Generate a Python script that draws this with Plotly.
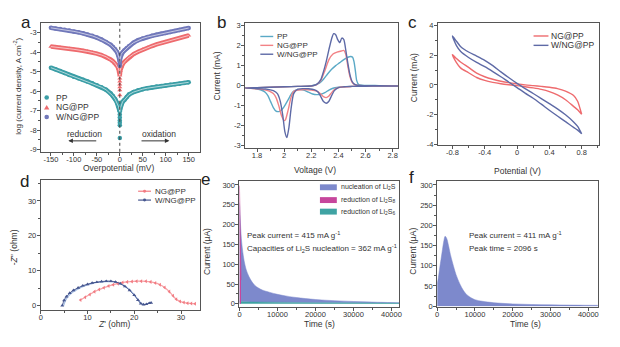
import plotly.graph_objects as go

FIG_W, FIG_H = 620, 347
FONT = "Liberation Sans, Arial, Helvetica, sans-serif"
AX = "#555555"
TXT = "#333333"

# ---------------- (a) Tafel plots ----------------
tafel_eta = [-150, -140, -130, -120, -110, -100, -90, -80, -70, -60, -50, -40, -30, -20,
             -15, -10, -6, -3, -1, 0, 1, 3, 6, 10, 15, 20,
             30, 40, 50, 60, 70, 80, 90, 100, 110, 120, 130, 140, 150]
pp_log = [-4.80, -4.88, -4.97, -5.07, -5.17, -5.26, -5.34, -5.42, -5.51, -5.60, -5.70, -5.80, -5.93, -6.12,
          -6.25, -6.42, -6.60, -6.78, -6.95, -7.05, -6.90, -6.70, -6.55, -6.45, -6.30, -6.18,
          -6.05, -5.96, -5.90, -5.85, -5.81, -5.77, -5.74, -5.71, -5.68, -5.65, -5.62, -5.58, -5.55]
ng_log = [-3.72, -3.74, -3.77, -3.80, -3.83, -3.86, -3.89, -3.93, -3.97, -4.02, -4.08, -4.15, -4.24, -4.38,
          -4.47, -4.58, -4.70, -4.85, -5.00, -5.20, -4.95, -4.75, -4.62, -4.50, -4.38, -4.27,
          -4.10, -3.98, -3.87, -3.78, -3.69, -3.61, -3.54, -3.48, -3.41, -3.35, -3.28, -3.22, -3.15]
wng_log = [-2.76, -2.79, -2.82, -2.86, -2.90, -2.94, -2.99, -3.04, -3.10, -3.17, -3.26, -3.36, -3.48, -3.63,
           -3.74, -3.86, -4.00, -4.18, -4.35, -4.50, -4.30, -4.12, -4.02, -3.92, -3.80, -3.70,
           -3.52, -3.39, -3.30, -3.23, -3.17, -3.11, -3.06, -3.02, -2.97, -2.92, -2.87, -2.82, -2.77]
# points recorded at zero overpotential
pp_zero = [-7.2, -7.35, -7.5, -7.62, -7.75, -8.4]
ng_zero = [-5.35, -5.5, -5.65, -5.8, -5.95, -6.2]
wng_zero = [-4.6, -4.7]

# ---------------- (b) CV of Li-S cells ----------------
pp_v = [2.84, 2.7, 2.6, 2.5, 2.45, 2.40, 2.36, 2.33, 2.30, 2.27, 2.24, 2.21, 2.18, 2.15, 2.12, 2.09, 2.06, 2.03,
        2.00, 1.98, 1.96, 1.94, 1.92, 1.90, 1.88, 1.86, 1.83, 1.80, 1.76, 1.71,
        1.8, 1.9, 2.0, 2.1, 2.18, 2.22, 2.26, 2.29, 2.32, 2.35, 2.38, 2.41, 2.44, 2.47, 2.49, 2.505, 2.515,
        2.525, 2.535, 2.55, 2.6, 2.7, 2.84]
pp_i = [-0.02, -0.02, -0.03, -0.04, -0.05, -0.08, -0.13, -0.22, -0.35, -0.43, -0.45, -0.42, -0.33, -0.24, -0.2,
        -0.22, -0.35, -0.7, -1.05, -1.22, -1.3, -1.28, -1.1, -0.8, -0.5, -0.33, -0.22, -0.17, -0.14, -0.12,
        -0.1, -0.08, -0.06, -0.04, -0.02, 0.02, 0.12, 0.32, 0.58, 0.82, 1.0, 1.15, 1.3, 1.42, 1.46, 1.42, 1.2,
        0.75, 0.25, 0.05, 0.01, 0.0, -0.02]
ng_v = [2.84, 2.7, 2.6, 2.5, 2.42, 2.38, 2.35, 2.33, 2.31, 2.29, 2.27, 2.24, 2.2, 2.15, 2.1, 2.07, 2.05, 2.03,
        2.01, 2.0, 1.98, 1.96, 1.94, 1.92, 1.89, 1.85, 1.8, 1.75, 1.71,
        1.8, 1.9, 2.0, 2.1, 2.2, 2.24, 2.27, 2.30, 2.33, 2.36, 2.39, 2.42, 2.44, 2.455, 2.47, 2.485, 2.5,
        2.52, 2.55, 2.6, 2.7, 2.84]
ng_i = [-0.02, -0.02, -0.03, -0.04, -0.07, -0.15, -0.35, -0.52, -0.6, -0.55, -0.42, -0.28, -0.22, -0.2, -0.22,
        -0.3, -0.6, -1.2, -1.7, -1.75, -1.5, -1.0, -0.6, -0.4, -0.28, -0.2, -0.16, -0.13, -0.12,
        -0.1, -0.08, -0.06, -0.04, -0.02, 0.05, 0.25, 0.75, 1.3, 1.58, 1.68, 1.73, 1.76, 1.55, 0.95, 0.45, 0.18,
        0.05, 0.01, 0.0, 0.0, -0.02]
wng_v = [2.84, 2.7, 2.6, 2.5, 2.44, 2.40, 2.37, 2.35, 2.33, 2.31, 2.29, 2.27, 2.25, 2.22, 2.18, 2.14, 2.1, 2.07,
         2.05, 2.035, 2.02, 2.005, 1.99, 1.97, 1.95, 1.92, 1.88, 1.84, 1.78, 1.71,
         1.8, 1.9, 2.0, 2.1, 2.2, 2.24, 2.27, 2.29, 2.31, 2.33, 2.35, 2.365, 2.38, 2.395, 2.41, 2.425, 2.44,
         2.455, 2.47, 2.485, 2.5, 2.52, 2.55, 2.6, 2.7, 2.84]
wng_i = [-0.02, -0.02, -0.03, -0.04, -0.06, -0.1, -0.25, -0.5, -0.78, -0.88, -0.8, -0.55, -0.32, -0.2, -0.16,
         -0.15, -0.17, -0.4, -1.2, -2.1, -2.6, -2.3, -1.5, -0.75, -0.4, -0.25, -0.19, -0.16, -0.14, -0.12,
         -0.1, -0.08, -0.06, -0.04, -0.02, 0.06, 0.3, 0.7, 1.2, 1.8, 2.35, 2.6, 2.55, 2.3, 2.15, 2.38, 2.3,
         1.75, 1.1, 0.55, 0.22, 0.06, 0.01, 0.0, 0.0, -0.02]

# ---------------- (c) CV of symmetric cells ----------------
sym_v = [-0.8, -0.75, -0.7, -0.6, -0.5, -0.4, -0.3, -0.2, -0.1, 0.0, 0.1, 0.2, 0.3, 0.4, 0.5, 0.6, 0.7, 0.75, 0.8]
ng_sym_up = [2.05, 1.78, 1.55, 1.18, 0.8, 0.55, 0.38, 0.25, 0.15, 0.07, 0.0, -0.05, -0.1, -0.16, -0.25, -0.42,
             -0.72, -1.1, -1.98]
ng_sym_down = [2.05, 1.5, 1.15, 0.82, 0.5, 0.3, 0.17, 0.08, 0.01, -0.05, -0.12, -0.2, -0.3, -0.45, -0.68, -1.0,
               -1.45, -1.68, -1.98]
wng_sym_up = [3.3, 2.95, 2.6, 2.22, 1.95, 1.66, 1.3, 0.88, 0.48, 0.1, -0.25, -0.58, -0.92, -1.27, -1.62, -2.02,
              -2.5, -2.8, -3.3]
wng_sym_down = [3.3, 2.65, 2.27, 1.85, 1.52, 1.23, 0.9, 0.55, 0.18, -0.18, -0.55, -0.9, -1.3, -1.71, -2.1, -2.48,
                -2.87, -3.05, -3.3]

# ---------------- (d) Nyquist plots ----------------
ng_zre = [8.5, 9.5, 10.5, 11.5, 12.5, 13.5, 14.5, 15.5, 16.5, 17.5, 18.5, 19.5, 20.5, 21.5, 22.5, 23.5, 24.5,
          25.5, 26.5, 27.5, 28.3, 29.0, 29.8, 30.6, 31.4, 32.2, 33.0]
ng_zim = [1.6, 2.4, 3.2, 4.0, 4.6, 5.1, 5.6, 6.0, 6.3, 6.6, 6.8, 6.9, 7.0, 7.0, 6.95, 6.8, 6.5,
          6.0, 5.2, 4.0, 2.8, 1.8, 1.2, 0.9, 0.7, 0.6, 0.5]
wng_zre = [4.6, 5.0, 5.5, 6.2, 7.0, 8.0, 9.0, 10.0, 11.0, 12.0, 13.0, 14.0, 15.0, 16.0, 17.0, 18.0, 19.0, 20.0,
           20.8, 21.4, 22.0, 22.6, 23.2, 23.6]
wng_zim = [0.0, 1.5, 2.6, 3.6, 4.4, 5.1, 5.7, 6.1, 6.5, 6.7, 6.9, 7.0, 7.0, 6.8, 6.3, 5.5, 4.4, 3.0,
           1.6, 0.6, 0.3, 0.4, 0.7, 0.8]
wng_fit_zre = [4.9, 5.3, 5.9, 6.8, 8.0, 9.5, 11.0, 12.5, 14.0, 15.5, 17.0, 18.5, 19.8, 20.8, 21.5, 22.2]
wng_fit_zim = [0.0, 1.5, 2.7, 3.8, 4.8, 5.7, 6.3, 6.7, 6.9, 6.8, 6.3, 5.1, 3.4, 1.7, 0.6, 0.2]

# ---------------- (e) potentiostatic discharge, W/NG@PP ----------------
e_t = [0, 200, 500, 1000, 1500, 2000, 3000, 4000, 5000, 6000, 8000, 10000, 12500, 15000, 20000, 25000, 30000,
       35000, 40000, 42000]
e_total = [255, 215, 165, 122, 96, 80, 60, 47, 40, 35, 29, 24, 19.5, 16, 11, 8, 6, 4.5, 3.2, 2.8]
e_s6 = [6, 5.8, 5.6, 5.4, 5.2, 5.0, 4.8, 4.6, 4.4, 4.2, 4.0, 3.8, 3.6, 3.4, 3.1, 2.9, 2.7, 2.5, 2.3, 2.2]
e_s8_t = [0, 80, 200, 400]
e_s8 = [298, 270, 170, 60]

# ---------------- (f) potentiostatic discharge, NG@PP ----------------
f_t = [0, 300, 600, 1000, 1400, 1800, 2100, 2500, 3000, 3500, 4000, 4500, 5000, 6000, 7000, 8000, 10000, 12000,
       15000, 20000, 25000, 30000, 35000, 40000, 42500]
f_i = [55, 70, 90, 115, 140, 163, 173, 168, 150, 128, 110, 93, 78, 55, 38, 27, 16, 12, 8.5, 5.5, 4, 3.2, 2.6,
       2.1, 2.0]

# ---------------- tick labels ----------------
a_xt = [-150, -100, -50, 0, 50, 100, 150]
a_xl = ["-150", "-100", "-50", "0", "50", "100", "150"]
a_yt = [-9, -8, -7, -6, -5, -4, -3]
a_yl = ["-9", "-8", "-7", "-6", "-5", "-4", "-3"]
b_xt = [1.8, 2.0, 2.2, 2.4, 2.6, 2.8]
b_xl = ["1.8", "2", "2.2", "2.4", "2.6", "2.8"]
b_yt = [-3, -2, -1, 0, 1, 2, 3]
b_yl = ["-3", "-2", "-1", "0", "1", "2", "3"]
c_xt = [-0.8, -0.4, 0, 0.4, 0.8]
c_xl = ["-0.8", "-0.4", "0", "0.4", "0.8"]
c_yt = [-4, -2, 0, 2, 4]
c_yl = ["-4", "-2", "0", "2", "4"]
d_t = [0, 10, 20, 30]
d_l = ["0", "10", "20", "30"]
ef_xt = [0, 10000, 20000, 30000, 40000]
ef_xl = ["0", "10000", "20000", "30000", "40000"]
ef_yt = [0, 50, 100, 150, 200, 250, 300]
ef_yl = ["0", "50", "100", "150", "200", "250", "300"]

# ---------------- colours ----------------
C_PP = "#3b9ea6"
C_NG = "#ee6b6e"
C_WNG = "#7178ba"
C_PP_B = "#5aa9c6"
C_NG_B = "#f28286"
C_WNG_B = "#5e6aa6"
C_NG_D = "#f27b82"
C_WNG_D = "#46568f"
C_NUC = "#7d89cc"
C_S8 = "#c6469c"
C_S6 = "#3fa3a3"


def fx(p):
    return p / FIG_W


def fy(p):
    return 1 - p / FIG_H


fig = go.Figure()

# (a)
for ys, zeros, col, sym in [(pp_log, pp_zero, C_PP, "circle"),
                            (ng_log, ng_zero, C_NG, "triangle-up"),
                            (wng_log, wng_zero, C_WNG, "circle")]:
    fig.add_trace(go.Scatter(x=tafel_eta, y=ys, mode="lines+markers",
                             line=dict(color=col, width=4.5),
                             marker=dict(size=4.5, color=col, symbol=sym),
                             xaxis="x", yaxis="y", showlegend=False, hoverinfo="skip"))
    fig.add_trace(go.Scatter(x=[0] * len(zeros), y=zeros, mode="markers",
                             marker=dict(size=4.5, color=col, symbol=sym),
                             xaxis="x", yaxis="y", showlegend=False, hoverinfo="skip"))
    fig.add_trace(go.Scatter(x=tafel_eta, y=ys, mode="lines",
                             line=dict(color="rgba(255,255,255,0.6)", width=1),
                             xaxis="x", yaxis="y", showlegend=False, hoverinfo="skip"))

# (b)
for vv, ii, col in [(pp_v, pp_i, C_PP_B), (ng_v, ng_i, C_NG_B), (wng_v, wng_i, C_WNG_B)]:
    fig.add_trace(go.Scatter(x=vv, y=ii, mode="lines",
                             line=dict(color=col, width=1.4, shape="spline", smoothing=0.6),
                             xaxis="x2", yaxis="y2", showlegend=False, hoverinfo="skip"))

# (c)
for up, down, col in [(ng_sym_up, ng_sym_down, C_NG), (wng_sym_up, wng_sym_down, C_WNG_B)]:
    fig.add_trace(go.Scatter(x=sym_v + sym_v[::-1], y=up + down[::-1], mode="lines",
                             line=dict(color=col, width=1.4, shape="spline", smoothing=0.8),
                             xaxis="x3", yaxis="y3", showlegend=False, hoverinfo="skip"))

# (d)
fig.add_trace(go.Scatter(x=wng_fit_zre, y=wng_fit_zim, mode="lines",
                         line=dict(color="#a9c0e4", width=1.3, shape="spline"),
                         xaxis="x4", yaxis="y4", showlegend=False, hoverinfo="skip"))
fig.add_trace(go.Scatter(x=ng_zre, y=ng_zim, mode="lines+markers",
                         line=dict(color="#f6a3a7", width=1.2, shape="spline"),
                         marker=dict(size=3.5, color=C_NG_D, symbol="triangle-left"),
                         xaxis="x4", yaxis="y4", showlegend=False, hoverinfo="skip"))
fig.add_trace(go.Scatter(x=wng_zre, y=wng_zim, mode="lines+markers",
                         line=dict(color=C_WNG_D, width=1.0, shape="spline"),
                         marker=dict(size=3.5, color=C_WNG_D, symbol="triangle-up"),
                         xaxis="x4", yaxis="y4", showlegend=False, hoverinfo="skip"))

# (e)
fig.add_trace(go.Scatter(x=e_t, y=e_s6, mode="lines", fill="tozeroy", fillcolor=C_S6,
                         line=dict(color=C_S6, width=0.5),
                         xaxis="x5", yaxis="y5", showlegend=False, hoverinfo="skip"))
fig.add_trace(go.Scatter(x=e_t, y=e_total, mode="lines", fill="tonexty", fillcolor=C_NUC,
                         line=dict(color=C_NUC, width=0.5, shape="spline"),
                         xaxis="x5", yaxis="y5", showlegend=False, hoverinfo="skip"))
fig.add_trace(go.Scatter(x=e_s8_t, y=e_s8, mode="lines", fill="tozeroy", fillcolor=C_S8,
                         line=dict(color=C_S8, width=0.8),
                         xaxis="x5", yaxis="y5", showlegend=False, hoverinfo="skip"))

# (f)
fig.add_trace(go.Scatter(x=f_t, y=f_i, mode="lines", fill="tozeroy", fillcolor=C_NUC,
                         line=dict(color=C_NUC, width=0.5, shape="spline"),
                         xaxis="x6", yaxis="y6", showlegend=False, hoverinfo="skip"))


def axis(domain, rng, tv, tl, minor_dtick, anchor, is_x):
    return dict(domain=domain, range=rng, tickmode="array", tickvals=tv, ticktext=tl,
                ticks="outside", ticklen=3, tickwidth=1, tickcolor=AX,
                showline=True, linecolor=AX, linewidth=1, mirror=True,
                showgrid=False, zeroline=False, anchor=anchor,
                ticklabelstandoff=-3 if is_x else -1,
                tickfont=dict(family=FONT, size=7.5, color=TXT),
                minor=dict(ticks="outside", ticklen=2, tick0=0, dtick=minor_dtick,
                           tickcolor=AX, showgrid=False))


fig.update_layout(
    width=FIG_W, height=FIG_H, autosize=False,
    margin=dict(l=0, r=0, t=0, b=0),
    paper_bgcolor="white", plot_bgcolor="white",
    font=dict(family=FONT, size=8, color=TXT),
    showlegend=False,
    xaxis=axis([fx(39.5), fx(199)], [-171, 174], a_xt, a_xl, 25, "y", True),
    yaxis=axis([fy(153), fy(22.5)], [-9.11, -2.52], a_yt, a_yl, 0.5, "x", False),
    xaxis2=axis([fx(244.7), fx(398.5)], [1.712, 2.839], b_xt, b_xl, 0.1, "y2", True),
    yaxis2=axis([fy(149.5), fy(22)], [-3.14, 3.15], b_yt, b_yl, 0.5, "x2", False),
    xaxis3=axis([fx(438.7), fx(600.5)], [-0.98, 1.01], c_xt, c_xl, 0.2, "y3", True),
    yaxis3=axis([fy(146), fy(22)], [-4.05, 4.2], c_yt, c_yl, 1, "x3", False),
    xaxis4=axis([fx(39), fx(199)], [0, 34], d_t, d_l, 5, "y4", True),
    yaxis4=axis([fy(314), fy(182)], [-1.4, 35.9], d_t, d_l, 5, "x4", False),
    xaxis5=axis([fx(239), fx(400)], [0, 42100], ef_xt, ef_xl, 5000, "y5", True),
    yaxis5=axis([fy(310), fy(183)], [-6.7, 309], ef_yt, ef_yl, 25, "x5", False),
    xaxis6=axis([fx(438), fx(600)], [0, 42600], ef_xt, ef_xl, 5000, "y6", True),
    yaxis6=axis([fy(310), fy(183)], [-1, 309], ef_yt, ef_yl, 25, "x6", False),
)

ann = []
shapes = []


def text(px_, py_, s, size=8.5, anchor="center", angle=0, color=TXT):
    ann.append(dict(x=fx(px_), y=fy(py_), xref="paper", yref="paper", text=s, showarrow=False,
                    xanchor=anchor, yanchor="middle", textangle=angle,
                    font=dict(family=FONT, size=size, color=color)))


# panel letters
for lbl, lx, ly in [("a", 24, 22), ("b", 221, 22), ("c", 413, 22),
                    ("d", 23, 183), ("e", 205, 181), ("f", 412, 179)]:
    text(lx, ly, lbl, size=17, color="#222222")

# axis titles
text(117, 169, "Overpotential (mV)")
text(15, 86, "log (current density, A cm<sup>-2</sup>)", size=8, angle=-90)
text(315, 171, "Voltage (V)")
text(216, 76, "Current (mA)", angle=-90)
text(519, 172, "Potential (V)")
text(415, 78, "Current (mA)", angle=-90)
text(113, 328, "<i>Z</i>' (ohm)")
text(12, 250, "-<i>Z</i>'' (ohm)", angle=-90)
text(320, 328, "Time (s)")
text(207, 254, "Current (µA)", angle=-90)
text(527, 328, "Time (s)")
text(414, 254, "Current (µA)", angle=-90)

# (a) legend
for lbl, yy in [("PP", 98), ("NG@PP", 107.8), ("W/NG@PP", 117.6)]:
    text(52, yy, lbl, size=8.5, anchor="left")
r = 2.3
shapes.append(dict(type="circle", xref="paper", yref="paper", x0=fx(45 - r), x1=fx(45 + r),
                   y0=fy(98 + r), y1=fy(98 - r), fillcolor=C_PP, line=dict(width=0)))
shapes.append(dict(type="path", xref="paper", yref="paper",
                   path=f"M {fx(42.3)},{fy(110)} L {fx(47.7)},{fy(110)} L {fx(45)},{fy(105.5)} Z",
                   fillcolor=C_NG, line=dict(width=0)))
shapes.append(dict(type="circle", xref="paper", yref="paper", x0=fx(45 - r), x1=fx(45 + r),
                   y0=fy(117.6 + r), y1=fy(117.6 - r), fillcolor=C_WNG, line=dict(width=0)))
# (a) zero-overpotential guide
shapes.append(dict(type="line", xref="x", yref="y domain", x0=0, x1=0, y0=0, y1=1,
                   line=dict(color="#444444", width=1, dash="dot")))
# (a) direction arrows
text(83, 135, "reduction", size=8.5, anchor="center")
text(158, 135, "oxidation", size=8.5, anchor="center")
ann.append(dict(x=-112, y=-8.55, ax=-48, ay=-8.55, xref="x", yref="y", axref="x", ayref="y",
                text="", showarrow=True, arrowhead=2, arrowsize=0.9, arrowwidth=1, arrowcolor="#333333"))
ann.append(dict(x=108, y=-8.55, ax=44, ay=-8.55, xref="x", yref="y", axref="x", ayref="y",
                text="", showarrow=True, arrowhead=2, arrowsize=0.9, arrowwidth=1, arrowcolor="#333333"))

# (b) legend
for lbl, col, yy in [("PP", C_PP_B, 36), ("NG@PP", C_NG_B, 45), ("W/NG@PP", C_WNG_B, 54)]:
    shapes.append(dict(type="line", xref="paper", yref="paper", x0=fx(260), x1=fx(273),
                       y0=fy(yy), y1=fy(yy), line=dict(color=col, width=1.4)))
    text(274.5, yy, lbl, size=8, anchor="left")

# (c) legend
for lbl, col, yy in [("NG@PP", C_NG, 35.5), ("W/NG@PP", C_WNG_B, 45)]:
    shapes.append(dict(type="line", xref="paper", yref="paper", x0=fx(535), x1=fx(550),
                       y0=fy(yy), y1=fy(yy), line=dict(color=col, width=1.4)))
    text(551, yy, lbl, size=8.5, anchor="left")

# (d) legend
for lbl, col, yy in [("NG@PP", C_NG_D, 193), ("W/NG@PP", C_WNG_D, 202)]:
    shapes.append(dict(type="line", xref="paper", yref="paper", x0=fx(137), x1=fx(150),
                       y0=fy(yy), y1=fy(yy), line=dict(color=col, width=1.2)))
    shapes.append(dict(type="circle", xref="paper", yref="paper", x0=fx(142), x1=fx(145),
                       y0=fy(yy + 1.5), y1=fy(yy - 1.5), fillcolor=col, line=dict(width=0)))
    text(151.5, yy, lbl, size=8, anchor="left")

# (e) legend
for lbl, col, yy in [("nucleation of Li<sub>2</sub>S", C_NUC, 189),
                     ("reduction of Li<sub>2</sub>S<sub>8</sub>", C_S8, 202),
                     ("reduction of Li<sub>2</sub>S<sub>6</sub>", C_S6, 213.7)]:
    shapes.append(dict(type="rect", xref="paper", yref="paper", x0=fx(320), x1=fx(337),
                       y0=fy(yy + 3), y1=fy(yy - 3), fillcolor=col, line=dict(width=0)))
    text(339.5, yy, lbl, size=7, anchor="left")

# (e), (f) notes
text(245, 237, "Peak current = 415 mA g<sup>-1</sup>", size=8, anchor="left")
text(245, 251.5, "Capacities of Li<sub>2</sub>S nucleation = 362 mA g<sup>-1</sup>", size=8, anchor="left")
text(468, 237, "Peak current = 411 mA g<sup>-1</sup>", size=8, anchor="left")
text(468, 251, "Peak time = 2096 s", size=8, anchor="left")

fig.update_layout(annotations=ann, shapes=shapes)
fig.write_html("out.html")
